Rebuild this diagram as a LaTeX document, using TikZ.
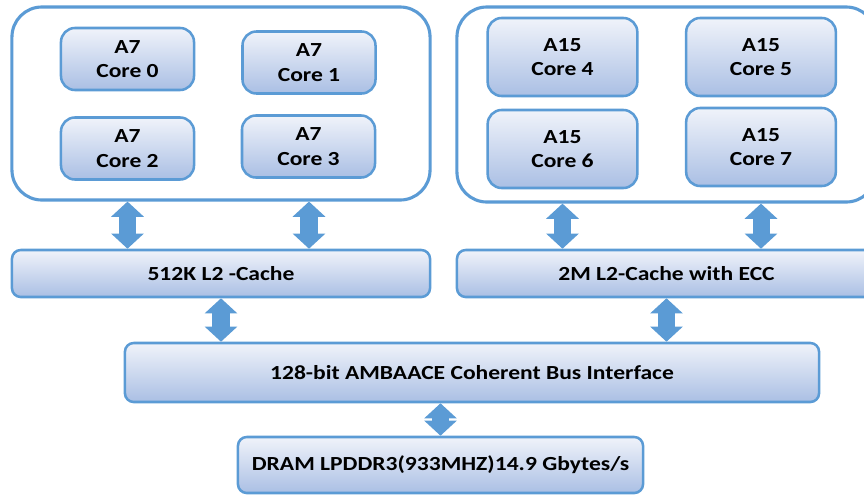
\documentclass[tikz,border=0pt]{standalone}
\usepackage{fontspec}
\setmainfont{Carlito}[FakeStretch=1.18]
\usetikzlibrary{arrows.meta}
\definecolor{boxline}{RGB}{91,155,213}
\definecolor{boxtop}{RGB}{240,243,250}
\definecolor{boxbot}{RGB}{170,191,228}
\begin{document}
\begin{tikzpicture}[x=0.025cm,y=-0.025cm,
    every node/.style={font=\fontsize{14.2}{17.5}\selectfont\bfseries, align=center, inner sep=0pt},
    cluster/.style={draw=boxline, line width=2.2pt, fill=white, rounded corners=0.75cm},
    core/.style={draw=boxline, line width=1.8pt, top color=boxtop, bottom color=boxbot,
        rounded corners=0.35cm, minimum width=3.325cm, minimum height=1.55cm},
    bigcore/.style={core, minimum width=3.74cm, minimum height=1.95cm},
    bar/.style={draw=boxline, line width=1.8pt, top color=boxtop, bottom color=boxbot,
        rounded corners=0.22cm},
    link/.style={draw=boxline, line width=0.425cm,
        {Triangle[width=0.8cm,length=0.38cm]}-{Triangle[width=0.8cm,length=0.38cm]}}]
  \useasboundingbox (0,0) rectangle (864,495);
  %clusters
  \node[cluster, minimum width=10.45cm, minimum height=4.825cm] (lc) at (221,103.5) {};
  \node[cluster, minimum width=10.475cm, minimum height=4.875cm] (rc) at (666.5,104.5) {};
  %cores
  \node[core] (c0) at (127.5,59) {A7\\Core 0};
  \node[core] (c1) at (309,62.5) {A7\\Core 1};
  \node[core] (c2) at (127.5,148.5) {A7\\Core 2};
  \node[core] (c3) at (308.5,146.5) {A7\\Core 3};
  \node[bigcore] (c4) at (562.5,57) {A15\\Core 4};
  \node[bigcore] (c5) at (761,57) {A15\\Core 5};
  \node[bigcore] (c6) at (562.5,149) {A15\\Core 6};
  \node[bigcore] (c7) at (761,147) {A15\\Core 7};
  %caches and bus
  \node[bar, minimum width=10.45cm, minimum height=1.175cm] (la) at (221,273.5) {512K L2 -Cache};
  \node[bar, minimum width=10.475cm, minimum height=1.175cm] (lb) at (666.5,273.5) {2M L2-Cache with ECC};
  \node[bar, minimum width=17.35cm, minimum height=1.475cm] (bus) at (472,372.5) {128-bit AMBAACE Coherent Bus Interface};
  \node[bar, minimum width=10.125cm, minimum height=1.4cm] (dram) at (440.5,465) {DRAM LPDDR3(933MHZ)14.9 Gbytes/s};
  %links
  \foreach \c in {c0,c1}
      \draw[link] (\c |- lc.south) -- (\c |- la.north);
  \foreach \c in {c4,c5}
      \draw[link] (\c |- rc.south) -- (\c |- lb.north);
  \draw[link] (la.south) -- (la |- bus.north);
  \draw[link] (lb.south) -- (lb |- bus.north);
  \draw[link] (dram |- bus.south) -- (dram.north);
\end{tikzpicture}
\end{document}
